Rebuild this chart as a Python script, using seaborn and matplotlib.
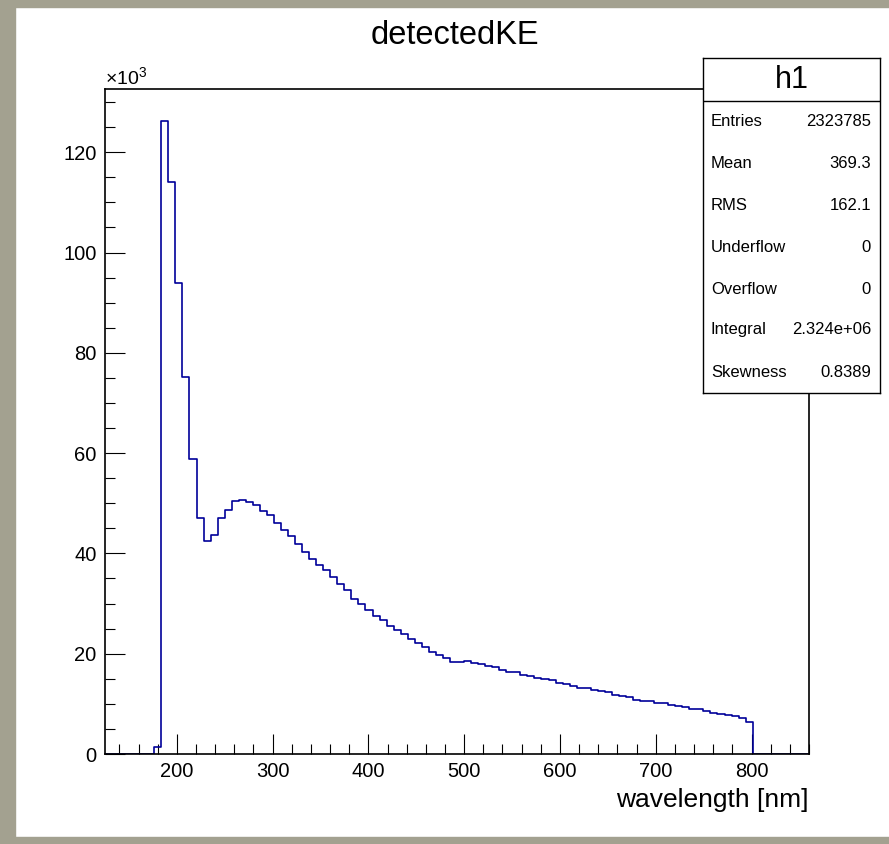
import numpy as np
import pandas as pd
import matplotlib
matplotlib.use("Agg")
import matplotlib.pyplot as plt
import seaborn as sns
from matplotlib.ticker import MultipleLocator
from matplotlib.patches import Rectangle

# ROOT-like look: white background, no grid, black text
sns.set_style("white")
plt.rcParams['font.family'] = ['Liberation Sans', 'DejaVu Sans']
plt.rcParams['mathtext.fontset'] = 'custom'
plt.rcParams['mathtext.rm'] = 'Liberation Sans'
plt.rcParams['text.color'] = 'black'
plt.rcParams['axes.labelcolor'] = 'black'

# 1. DATA (bin contents, in units of 10^3)

x_min, x_max, n_bins = 125.0, 860.0, 100

counts_k = [
    0, 0, 0, 0, 0, 0, 0,
    1.4, 126.3, 114.0, 94.0, 75.1, 58.8, 47.0, 42.4, 43.7, 47.0,
    48.6, 50.5, 50.6, 50.3, 49.6, 48.5, 47.6, 46.0, 44.7, 43.4,
    41.9, 40.3, 38.9, 37.7, 36.6, 35.3, 33.9, 32.7, 31.0, 29.95,
    28.7, 27.6, 26.7, 25.6, 24.8, 24.0, 22.9, 22.1, 21.4, 20.4,
    19.8, 19.1, 18.4, 18.4, 18.6, 18.2, 17.9, 17.5, 17.4, 16.8,
    16.4, 16.3, 15.8, 15.6, 15.2, 15.0, 14.8, 14.1, 13.9, 13.6,
    13.2, 13.1, 12.7, 12.5, 12.3, 11.8, 11.5, 11.3, 10.85, 10.65,
    10.5, 10.1, 10.25, 9.7, 9.5, 9.45, 9.05, 8.9, 8.5, 8.2,
    7.9, 7.7, 7.5, 7.2, 6.4,
    0, 0, 0, 0, 0, 0, 0, 0,
]

stat_names = ["Entries", "Mean", "RMS", "Underflow", "Overflow", "Integral", "Skewness"]
stat_values = ["2323785", "369.3", "162.1", "0", "0", "2.324e+06", "0.8389"]

title_text = "detectedKE"
xlabel_text = "wavelength [nm]"
hist_name = "h1"

# I build the bin edges from the histogram definition
edges = np.linspace(x_min, x_max, n_bins + 1)
centers = 0.5 * (edges[:-1] + edges[1:])
df = pd.DataFrame({'wavelength': centers, 'count': counts_k})

# 2. FIGURE

fig = plt.figure(figsize=(8.89, 8.44), dpi=100)
W, H = 889, 844

# I draw the grey canvas border (left, top, bottom)
border = '#a3a190'
fig.patches.append(Rectangle((0, 0), 15 / W, 1, transform=fig.transFigure, color=border, zorder=0))
fig.patches.append(Rectangle((0, 1 - 7 / H), 1, 7 / H, transform=fig.transFigure, color=border, zorder=0))
fig.patches.append(Rectangle((0, 0), 1, 7 / H, transform=fig.transFigure, color=border, zorder=0))

ax = fig.add_axes([105 / W, (H - 754) / H, (809 - 105) / W, (754 - 89) / H])

sns.histplot(data=df, x='wavelength', weights='count', bins=list(edges), element='step',
             fill=False, color='#000099', linewidth=1.2, ax=ax, zorder=2)

ax.set_xlim(x_min, x_max)
ax.set_ylim(0, 1.05 * max(counts_k))
ax.set_xlabel('')
ax.set_ylabel('')

# ROOT style ticks: inside, only left and bottom
ax.xaxis.set_major_locator(MultipleLocator(100))
ax.xaxis.set_minor_locator(MultipleLocator(20))
ax.yaxis.set_major_locator(MultipleLocator(20))
ax.yaxis.set_minor_locator(MultipleLocator(5))
ax.tick_params(which='both', direction='in', top=False, right=False, bottom=True, left=True,
               width=0.8, labelsize=14.5, colors='black')
ax.tick_params(which='major', length=14.4, pad=6)
ax.tick_params(which='minor', length=7.2)
# the frame sits on top of the histogram outline
for s in ax.spines.values():
    s.set_linewidth(1.2)
    s.set_color('black')
    s.set_zorder(3)

ax.text(0.0, 1.0, r"$\times10^{3}$", transform=ax.transAxes, ha='left', va='bottom', fontsize=14)

fig.text(455 / W, 1 - 35 / H, title_text, ha='center', va='center', fontsize=23.5)
fig.text(809 / W, 1 - 800 / H, xlabel_text, ha='right', va='center', fontsize=19)

# 3. STATS BOX

box_top, box_bot, box_l, box_r = 58, 393, 703, 880
bax = fig.add_axes([box_l / W, (H - box_bot) / H, (box_r - box_l) / W, (box_bot - box_top) / H])
bax.set_xlim(0, 1)
bax.set_ylim(0, 1)
bax.set_xticks([])
bax.set_yticks([])
bax.set_facecolor('white')
for s in bax.spines.values():
    s.set_linewidth(1.0)
    s.set_color('black')

def by(y):
    return (box_bot - y) / (box_bot - box_top)

bax.axhline(by(101), color='black', linewidth=1.0)
bax.text(0.5, by(80), hist_name, ha='center', va='center', fontsize=22)

row_y = [122, 164, 206, 248, 290, 330, 373]
for name, val, y in zip(stat_names, stat_values, row_y):
    bax.text((711 - box_l) / (box_r - box_l), by(y), name, ha='left', va='center', fontsize=12)
    bax.text((871 - box_l) / (box_r - box_l), by(y), val, ha='right', va='center', fontsize=12)

plt.savefig("out.png", dpi=100)
plt.close()
